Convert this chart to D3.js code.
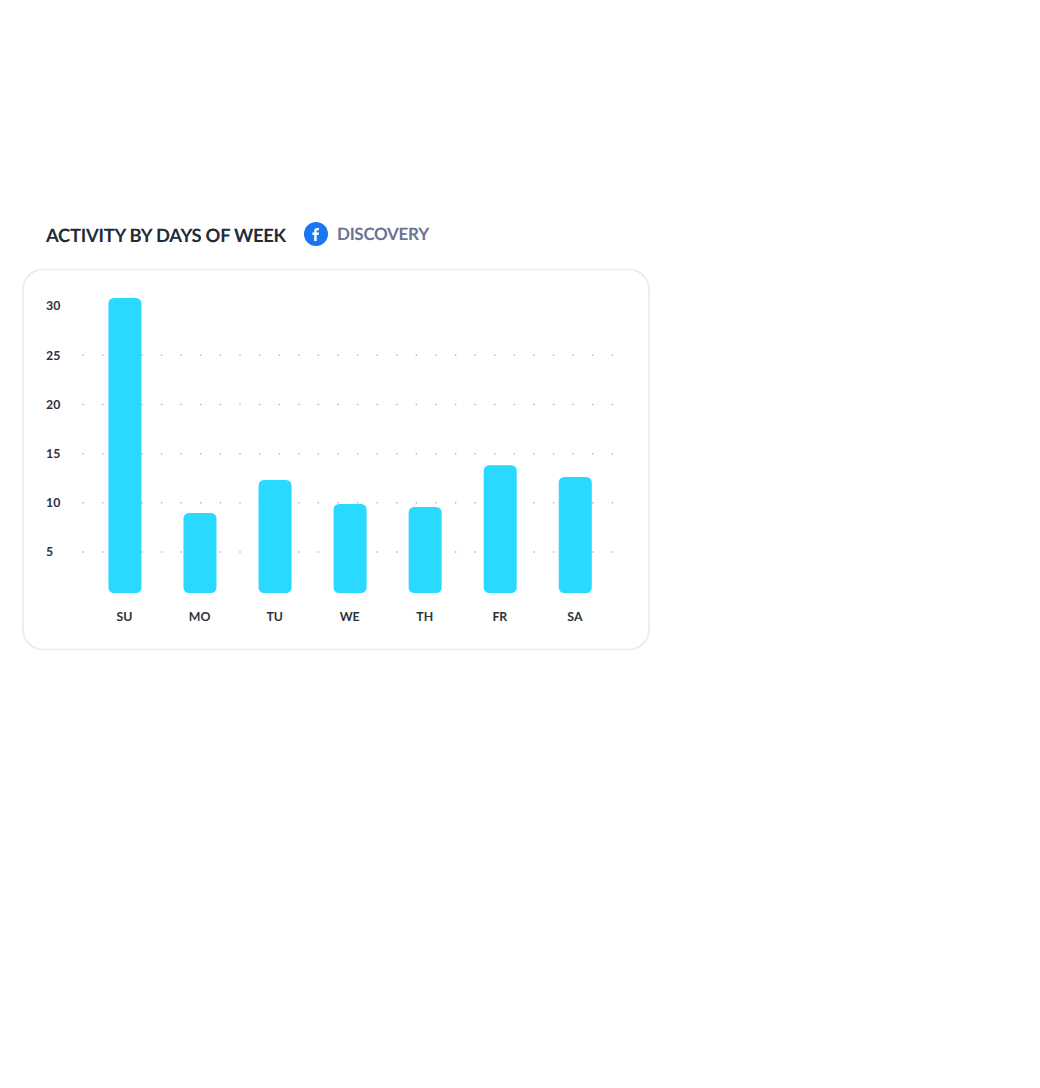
<!DOCTYPE html>
<html>
<head>
<meta charset="utf-8">
<script src="https://cdn.jsdelivr.net/npm/d3@7"></script>
<style>
html,body{margin:0;padding:0;background:#fff}
svg{display:block}
text{font-family:Lato,sans-serif;text-rendering:geometricPrecision}
</style>
</head>
<body>
<svg id="chart" width="1040" height="1088"></svg>
<script>
const days = ["SU","MO","TU","WE","TH","FR","SA"];
const activity = [30.8, 8.94, 12.3, 9.85, 9.55, 13.8, 12.6];
const yTicks = [5,10,15,20,25,30];
const barBase = 0.8;
const titleText = "ACTIVITY BY DAYS OF WEEK";
const sourceText = "DISCOVERY";

const svg = d3.select("#chart");
const x = d3.scaleBand().domain(days).range([87.4,612.8]).paddingInner(0.56).paddingOuter(0.28);
const y = d3.scaleLinear().domain([barBase,30.8]).range([593,298]);

svg.append("rect").attr("x",23).attr("y",269.5).attr("width",626).attr("height",380)
  .attr("rx",20).attr("fill","#fff").attr("stroke","#e9ebf1").attr("stroke-width",1.6);

svg.append("text").attr("x",46).attr("y",241.5).attr("font-size",18.4).attr("font-weight",700)
  .attr("letter-spacing",-0.27).attr("fill","#232b36").text(titleText);
svg.append("circle").attr("cx",316).attr("cy",234).attr("r",12).attr("fill","#1877f2");
svg.append("path").attr("transform","translate(311,227)").attr("fill","#fff")
  .attr("d","M3.2 14V8H1.4V5.6H3.2V4C3.2 2 4.4 1 6.2 1C7 1 7.7 1.1 8 1.1V3.2H6.8C5.9 3.2 5.6 3.7 5.6 4.4V5.6H7.9L7.6 8H5.6V14Z");
svg.append("text").attr("x",337).attr("y",240).attr("font-size",17).attr("font-weight",700)
  .attr("letter-spacing",-0.3).attr("fill","#6a7390").text(sourceText);

const gGrid = svg.append("g");
yTicks.filter(t=>t<30).forEach(t=>{
  gGrid.append("line").attr("x1",82.5).attr("x2",613.5).attr("y1",y(t)+0.3).attr("y2",y(t)+0.3)
    .attr("stroke","#b4b7bf").attr("stroke-width",1.5).attr("stroke-dasharray","1.4 18.2");
});

const yAxis = svg.append("g").attr("transform","translate(46,0)")
  .call(d3.axisLeft(y).tickValues(yTicks).tickSize(0).tickPadding(0));
yAxis.select(".domain").remove();
yAxis.selectAll("text").attr("text-anchor","start").attr("x",0).attr("y",-0.2).attr("font-size",12.3).attr("font-weight",700)
  .attr("fill","#2b323d").attr("font-family","Lato,sans-serif").attr("dy","0.35em");

svg.selectAll("rect.bar").data(days).join("rect").attr("class","bar")
  .attr("x",d=>x(d)).attr("width",x.bandwidth())
  .attr("y",(d,i)=>y(activity[i])).attr("height",(d,i)=>y(barBase)-y(activity[i]))
  .attr("rx",5.5).attr("fill","#29d9ff");

const xAxis = svg.append("g").attr("transform","translate(-0.4,616.2)")
  .call(d3.axisBottom(x).tickSize(0).tickPadding(0));
xAxis.select(".domain").remove();
xAxis.selectAll("text").attr("y",0).attr("dy","0.35em").attr("font-size",12.3).attr("font-weight",700)
  .attr("fill","#2b323d").attr("font-family","Lato,sans-serif");
</script>
</body>
</html>
